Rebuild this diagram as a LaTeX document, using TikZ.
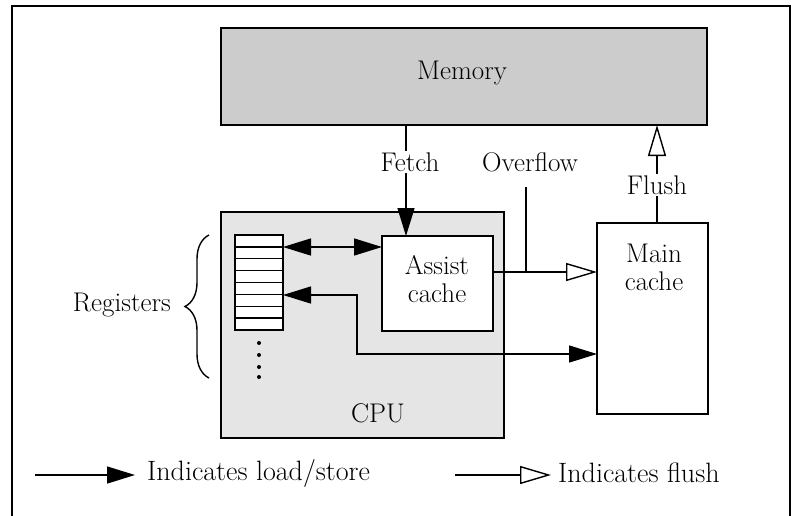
\documentclass[tikz,border=0pt]{standalone}
\usetikzlibrary{arrows.meta,decorations.pathreplacing}
\tikzset{
  boxs/.style={draw, line width=1.6pt, inner sep=0pt, outer sep=0pt},
  conn/.style={line width=1.4pt},
  fhead/.style={-{Triangle[length=28pt,width=17pt]}},
  dhead/.style={{Triangle[length=28pt,width=17pt]}-{Triangle[length=28pt,width=17pt]}},
  ohead/.style={-{Triangle[open,length=31pt,width=18pt,fill=white]}},
  lbl/.style={fill=white, inner sep=2pt},
  txt/.style={inner sep=0pt},
  legtxt/.style={inner sep=0pt, font=\fontsize{28}{30}\selectfont},
}
\begin{document}
\begin{tikzpicture}[x=1pt,y=-1pt,font=\fontsize{27}{28}\selectfont]
\useasboundingbox (0,0) rectangle (794,515);
\clip (0,0) rectangle (794,515);
% outer frame
\draw[line width=2.4pt] (12,560) -- (12,6) -- (790,6) -- (790,560);

% boxes
\node[boxs, fill=gray!40, minimum width=486pt, minimum height=97pt] (mem) at (464,76.5) {};
\node[txt] (meml) at (462,73) {Memory};
\node[boxs, fill=gray!20, minimum width=283pt, minimum height=226pt] (cpu) at (362.5,325) {};
\node[txt] (cpul) at (378,413) {CPU};
\node[boxs, fill=white, minimum width=111pt, minimum height=95pt] (assist) at (437.5,283.5) {};
\node[txt, align=center] (assistl) at (437,279) {Assist\\cache};
\node[boxs, fill=white, minimum width=111pt, minimum height=191pt] (main) at (652.5,318.5) {};
\node[txt, align=center] (mainl) at (654,267) {Main\\cache};
\node[boxs, fill=white, minimum width=48pt, minimum height=95pt] (regs) at (259,282.5) {};
\foreach \i in {1,...,7} \draw[line width=1.4pt] (235,235+\i*11.875) -- (283,235+\i*11.875);
\foreach \yy in {343,355,367,377} \fill (259,\yy) circle (2pt);

% registers brace
\draw[line width=1.4pt, decorate, decoration={brace, amplitude=24pt, mirror}] (209,235) -- (209,378);
\node[txt, anchor=east] (regl) at (171,305) {Registers};

% helper coordinates
\coordinate (fetchx) at (406,0);
\coordinate (flx) at (657,0);
\coordinate (am) at (0,272);
\coordinate (ovtop) at (526,187);
\coordinate (ra) at (0,247);
\coordinate (mr1) at (357,354);
\coordinate (mr2) at (0,295);

% connectors
\draw[conn, fhead] (mem.south -| fetchx) -- (assist.north -| fetchx);
\node[lbl] (fetchl) at (410,162) {Fetch};
\draw[conn, ohead] (assist.east |- am) -- (main.west |- am);
\draw[conn] (ovtop) -- (ovtop |- am);
\node[txt] (ovl) at (530,162) {Overflow};
\draw[conn, ohead] (main.north -| flx) -- (mem.south -| flx);
\node[lbl] (flushl) at (657,185) {Flush};
\draw[conn, dhead] (regs.east |- ra) -- (assist.west |- ra);
\draw[conn, dhead] (main.west |- mr1) -- (mr1) |- (regs.east |- mr2);

% legend
\coordinate (l1a) at (35,475);
\coordinate (l1b) at (135,475);
\draw[conn, fhead] (l1a) -- (l1b);
\node[legtxt, anchor=west] (l1t) at (147,473) {Indicates load/store};
\coordinate (l2a) at (455,475);
\coordinate (l2b) at (551,475);
\draw[conn, ohead] (l2a) -- (l2b);
\node[legtxt, anchor=west] (l2t) at (558,473) {Indicates flush};
\end{tikzpicture}
\end{document}
